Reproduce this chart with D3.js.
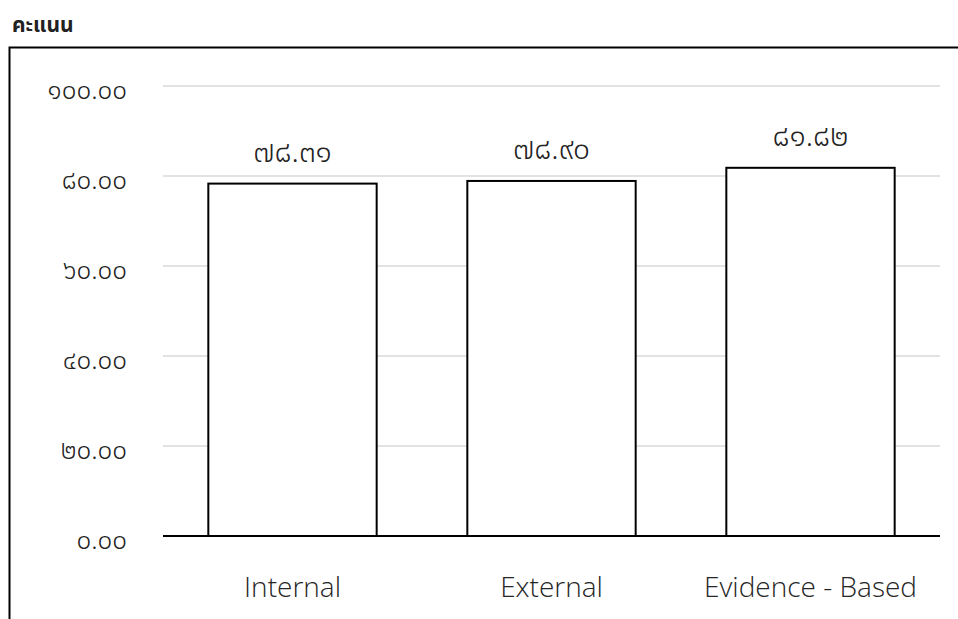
<!DOCTYPE html>
<html>
<head>
<meta charset="utf-8">
<script src="https://cdn.jsdelivr.net/npm/d3@7"></script>
<style>
  html, body { margin: 0; padding: 0; background: #fff; }
  svg { display: block; }
</style>
</head>
<body>
<svg id="chart" width="958" height="619"></svg>
<script>
// Scores by assessment type
const categories = ["Internal", "External", "Evidence - Based"];
const scores = [78.31, 78.90, 81.82];
const yTicks = [0, 20, 40, 60, 80, 100];
const axisTitle = "คะแนน";

const thaiDigits = "๐๑๒๓๔๕๖๗๘๙";
const toThai = s => s.replace(/[0-9]/g, d => thaiDigits[+d]);
const fmt = v => toThai(d3.format(".2f")(v));

const svg = d3.select("#chart");
const plot = { left: 163, right: 940, top: 86, bottom: 536 };
const thaiFont = "'Noto Sans Thai', 'Noto Sans', 'DejaVu Sans', sans-serif";
const latinFont = "'Open Sans', 'Noto Sans', sans-serif";

// outer frame
svg.append("rect")
  .attr("x", 9.5).attr("y", 47.5)
  .attr("width", 1000).attr("height", 700)
  .attr("fill", "none").attr("stroke", "#000").attr("stroke-width", 2);

svg.append("text")
  .attr("x", 12).attr("y", 32)
  .attr("font-family", thaiFont)
  .attr("font-size", 21).attr("font-weight", "bold")
  .attr("fill", "#222")
  .text(axisTitle);

const x = d3.scaleBand()
  .domain(categories)
  .range([plot.left, plot.right])
  .paddingInner(0.35).paddingOuter(0.175);

const y = d3.scaleLinear()
  .domain([0, 100])
  .range([plot.bottom, plot.top]);

// gridlines
svg.append("g")
  .selectAll("line")
  .data(yTicks.filter(t => t > 0))
  .join("line")
  .attr("x1", plot.left).attr("x2", plot.right)
  .attr("y1", d => y(d)).attr("y2", d => y(d))
  .attr("stroke", "#d9d9d9").attr("stroke-width", 1.5);

// y tick labels
const yAxis = d3.axisLeft(y).tickValues(yTicks).tickSize(0).tickPadding(0).tickFormat(fmt);
const yg = svg.append("g")
  .attr("transform", `translate(${plot.left - 36},0)`)
  .call(yAxis);
yg.select(".domain").remove();
yg.selectAll("text")
  .attr("font-family", thaiFont)
  .attr("font-size", 26)
  .attr("font-weight", 300)
  .attr("fill", "#222")
  .attr("dy", 12);

// bars
const barData = categories.map((c, i) => ({ c, v: scores[i] }));
svg.append("g")
  .selectAll("rect")
  .data(barData)
  .join("rect")
  .attr("x", d => x(d.c))
  .attr("y", d => y(d.v))
  .attr("width", x.bandwidth())
  .attr("height", d => y(0) - y(d.v))
  .attr("fill", "#fff")
  .attr("stroke", "#000").attr("stroke-width", 2);

// value labels
svg.append("g")
  .selectAll("text")
  .data(barData)
  .join("text")
  .attr("x", d => x(d.c) + x.bandwidth() / 2)
  .attr("y", d => y(d.v) - 22)
  .attr("text-anchor", "middle")
  .attr("font-family", thaiFont)
  .attr("font-size", 30)
  .attr("font-weight", 300)
  .attr("fill", "#222")
  .text(d => fmt(d.v));

// baseline
svg.append("line")
  .attr("x1", plot.left).attr("x2", plot.right)
  .attr("y1", y(0)).attr("y2", y(0))
  .attr("stroke", "#000").attr("stroke-width", 2);

// category labels
const xAxis = d3.axisBottom(x).tickSize(0).tickPadding(0);
const xg = svg.append("g")
  .attr("transform", `translate(0,${y(0) + 61})`)
  .call(xAxis);
xg.select(".domain").remove();
xg.selectAll("text")
  .attr("font-family", latinFont)
  .attr("font-size", 28)
  .attr("font-weight", 300)
  .attr("fill", "#262626")
  .attr("dy", 0);
</script>
</body>
</html>
